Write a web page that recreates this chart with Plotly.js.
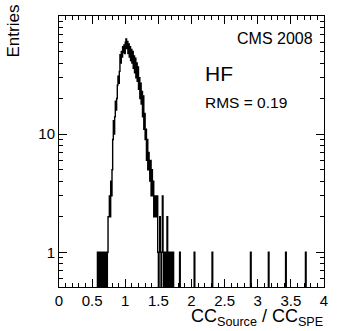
<!DOCTYPE html>
<html>
<head>
<meta charset="utf-8">
<script src="https://cdn.plot.ly/plotly-3.0.1.min.js"></script>
<style>
html,body{margin:0;padding:0;background:#fff;}
#chart{width:345px;height:331px;}
</style>
</head>
<body>
<div id="chart"></div>
<script>
// Histogram binning
const binWidth = 0.01;
const xMin = 0;
const xMax = 4;
// Counts of the contiguous core region, starting at coreStart, one per bin
const coreStart = 0.58;
const coreCounts = [
  1,0,1,0,1,0,0,1,0,1,   // 0.58-0.67
  0,1,0,1,0,1,2,2,3,2,   // 0.68-0.77
  4,3,5,9,13,10,14,19,16,20, // 0.78-0.87
  26,31,27,34,47,40,50,45,55,49, // 0.88-0.97
  57,48,60,64,53,61,48,58,45,55, // 0.98-1.07
  42,52,40,50,36,46,33,44,30,40, // 1.08-1.17
  28,37,24,30,20,27,18,23,14,21, // 1.18-1.27
  11,15,9,11,6,9,5,7,6,4,        // 1.28-1.37
  6,3,5,3,4,2,3,2,3,2,           // 1.38-1.47
  3,1,0,1,2,1,0,1,3,1,           // 1.48-1.57
  0,1,0,1,0,2,1,0,1,0,           // 1.58-1.67
  1,0,1,0,1                      // 1.68-1.72
];
// Isolated single entries in the tail
const tailX = [1.82, 2.04, 2.31, 2.89, 3.16, 3.42, 3.72];
const tailCounts = [1, 1, 1, 1, 1, 1, 1];

const xTickVals = [0, 0.5, 1, 1.5, 2, 2.5, 3, 3.5, 4];
const xTickText = ["0", "0.5", "1", "1.5", "2", "2.5", "3", "3.5", "4"];
const yTickVals = [1, 10];
const yTickText = ["1", "10"];

// Build full histogram
const nBins = Math.round((xMax - xMin) / binWidth);
const counts = new Array(nBins).fill(0);
coreCounts.forEach((c, i) => {
  const b = Math.round((coreStart - xMin) / binWidth) + i;
  counts[b] += c;
});
tailX.forEach((x, i) => {
  const b = Math.floor((x - xMin) / binWidth + 1e-9);
  counts[b] += tailCounts[i];
});
const FLOOR = 0.05; // zero bins drawn below the frame (clipped), as ROOT does on log scale
const hx = [], hy = [];
for (let i = 0; i < nBins; i++) {
  hx.push(xMin + i * binWidth);
  hy.push(counts[i] > 0 ? counts[i] : FLOOR);
}
hx.push(xMax);
hy.push(hy[hy.length - 1]);

// minor ticks
const yMinor = [];
for (let d = 0.1; d <= 100; d *= 10) {
  for (let k = 2; k <= 9; k++) yMinor.push(+(k * d).toFixed(4));
}

const W = 345, H = 331;
const L = 59, R = 324, T = 16, B = 287;
const px = x => (x - L) / (R - L);
const py = y => (B - y) / (B - T);

const FONT = "Liberation Sans, Arial, Helvetica, sans-serif";

const trace = {
  x: hx, y: hy, type: 'scatter', mode: 'lines',
  line: {shape: 'hv', color: '#000', width: 1.4},
  hoverinfo: 'skip', showlegend: false
};

const layout = {
  width: W, height: H,
  margin: {l: L, r: W - R, t: T, b: H - B, pad: 0},
  paper_bgcolor: '#fff', plot_bgcolor: '#fff',
  font: {family: FONT, color: '#000', size: 15},
  showlegend: false,
  xaxis: {
    range: [xMin, xMax], tickmode: 'array', tickvals: xTickVals, ticktext: xTickText,
    ticks: 'inside', ticklen: 8, tickwidth: 1, tickcolor: '#000',
    showline: true, linecolor: '#000', linewidth: 1, mirror: 'allticks',
    showgrid: false, zeroline: false,
    tickfont: {family: FONT, size: 15, color: '#000'},
    minor: {dtick: 0.1, tick0: 0, ticks: 'inside', ticklen: 4, tickcolor: '#000', tickwidth: 1, showgrid: false}
  },
  yaxis: {
    type: 'log', range: [-0.294, 2.0], tickmode: 'array', tickvals: yTickVals, ticktext: yTickText,
    ticks: 'inside', ticklen: 8, tickwidth: 1, tickcolor: '#000',
    showline: true, linecolor: '#000', linewidth: 1, mirror: 'allticks',
    showgrid: false, zeroline: false,
    tickfont: {family: FONT, size: 15, color: '#000'},
    minor: {tickmode: 'array', tickvals: yMinor, ticks: 'inside', ticklen: 4, tickcolor: '#000', tickwidth: 1, showgrid: false}
  },
  annotations: [
    {text: 'CMS 2008', xref: 'paper', yref: 'paper', x: px(315), y: py(38), xanchor: 'right', yanchor: 'middle', showarrow: false, font: {family: FONT, size: 16, color: '#000'}},
    {text: 'HF', xref: 'paper', yref: 'paper', x: px(203), y: py(73), xanchor: 'left', yanchor: 'middle', showarrow: false, font: {family: FONT, size: 21, color: '#000'}},
    {text: 'RMS = 0.19', xref: 'paper', yref: 'paper', x: px(203), y: py(102.5), xanchor: 'left', yanchor: 'middle', showarrow: false, font: {family: FONT, size: 15.5, color: '#000'}},
    {text: 'CC<sub>Source</sub> / CC<sub>SPE</sub>', xref: 'paper', yref: 'paper', x: px(325), y: py(317), xanchor: 'right', yanchor: 'middle', showarrow: false, font: {family: FONT, size: 18, color: '#000'}},
    {text: 'Entries', xref: 'paper', yref: 'paper', x: px(13), y: py(3), xanchor: 'center', yanchor: 'top', textangle: -90, showarrow: false, font: {family: FONT, size: 17, color: '#000'}}
  ]
};

Plotly.newPlot('chart', [trace], layout, {staticPlot: true, displayModeBar: false});
</script>
</body>
</html>
